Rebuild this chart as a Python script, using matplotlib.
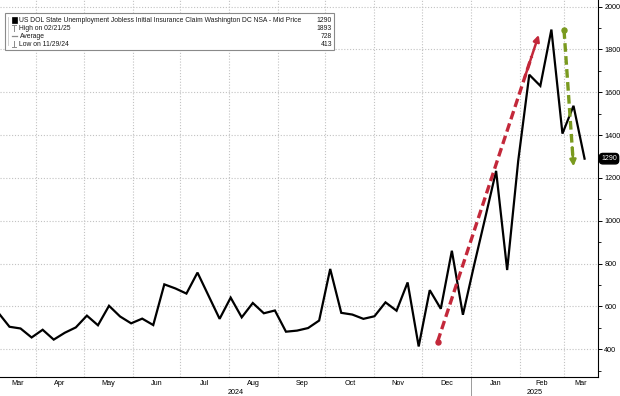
#!/usr/bin/env python3
"""Washington DC initial jobless claims, Bloomberg-style weekly line chart."""

import matplotlib

matplotlib.use("Agg")
import matplotlib.dates as mdates
import matplotlib.pyplot as plt
import pandas as pd
from matplotlib.lines import Line2D
from matplotlib.patches import Rectangle
from matplotlib.transforms import blended_transform_factory

FIRST_WEEK = "2024-03-08"
CLAIMS = [
    570, 505, 497, 455, 491, 445, 477, 502, 557, 512,
    603, 553, 521, 543, 513, 703, 684, 660, 758, 650,
    542, 641, 549, 616, 568, 581, 482, 487, 499, 534,
    775, 570, 562, 542, 554, 619, 580, 712, 413, 676,
    589, 860, 561, 790, 1010, 1233, 770, 1280, 1682, 1630,
    1893, 1407, 1537, 1290,
]
LAST_VALUE = "1290"

SERIES_NAME = "US DOL State Unemployment Jobless Initial Insurance Claim Washington DC NSA - Mid Price"
LEGEND_LABELS = [SERIES_NAME, "High on 02/21/25", "Average", "Low on 11/29/24"]
LEGEND_VALUES = ["1290", "1893", "728", "413"]

Y_TICKS = [400, 600, 800, 1000, 1200, 1400, 1600, 1800, 2000]
Y_MINOR = [300, 500, 700, 900, 1100, 1300, 1500, 1700, 1900]
YEARS = ["2024", "2025"]

X_START = "2024-03-09"
X_END = "2025-03-22 12:00"

RED = "#c3283a"
GREEN = "#7a9a1f"
GRID = "#c2c2c2"


def _num(d):
    return mdates.date2num(pd.Timestamp(d))


def _dashed_arrow(ax, start, end, color):
    x0, y0 = _num(start[0]), start[1]
    x1, y1 = _num(end[0]), end[1]
    ax.plot([x0, x0 + 0.93 * (x1 - x0)], [y0, y0 + 0.93 * (y1 - y0)],
            color=color, lw=2.4, ls=(0, (2.6, 1.3)), zorder=4)
    ax.plot([x0], [y0], "o", ms=3.6, color=color, zorder=4)
    ax.annotate("", xy=(x1, y1), xytext=(x0 + 0.86 * (x1 - x0), y0 + 0.86 * (y1 - y0)),
                arrowprops=dict(arrowstyle="-|>", color=color, lw=1.8,
                                mutation_scale=9, shrinkA=0, shrinkB=0),
                zorder=5)


def _legend(fig):
    W, H = 620.0, 396.0

    def fx(px):
        return px / W

    def fy(py):
        return 1.0 - py / H

    fig.add_artist(Rectangle((fx(5), fy(49.5)), fx(329), 36.8 / H, transform=fig.transFigure,
                             facecolor="white", edgecolor="#8a8a8a", lw=0.8, zorder=10))
    rows = [20.0, 28.4, 36.2, 44.0]
    # tree line on the left
    fig.add_artist(Line2D([fx(8), fx(8)], [fy(17), fy(45)], transform=fig.transFigure,
                          color="#c8c8c8", lw=0.6, zorder=11))
    # series swatch
    fig.add_artist(Rectangle((fx(11.5), fy(rows[0] + 2.8)), fx(5.5), 5.6 / H,
                             transform=fig.transFigure, facecolor="black", edgecolor="black",
                             lw=0.5, zorder=11))
    g = "#8c8c8c"
    # high icon
    fig.add_artist(Line2D([fx(12), fx(16)], [fy(rows[1] - 3), fy(rows[1] - 3)],
                          transform=fig.transFigure, color=g, lw=0.7, zorder=11))
    fig.add_artist(Line2D([fx(14), fx(14)], [fy(rows[1] - 3), fy(rows[1] + 2.5)],
                          transform=fig.transFigure, color=g, lw=0.7, zorder=11))
    # average icon
    fig.add_artist(Line2D([fx(11.5), fx(16.5)], [fy(rows[2]), fy(rows[2])],
                          transform=fig.transFigure, color=g, lw=0.9, zorder=11))
    # low icon
    fig.add_artist(Line2D([fx(12), fx(16)], [fy(rows[3] + 2.5), fy(rows[3] + 2.5)],
                          transform=fig.transFigure, color=g, lw=0.7, zorder=11))
    fig.add_artist(Line2D([fx(14), fx(14)], [fy(rows[3] - 3), fy(rows[3] + 2.5)],
                          transform=fig.transFigure, color=g, lw=0.7, zorder=11))

    for i, (label, value) in enumerate(zip(LEGEND_LABELS, LEGEND_VALUES)):
        fig.text(fx(19.5), fy(rows[i]), label, ha="left", va="center", fontsize=4.9,
                 color="#1a1a1a", zorder=12)
        fig.text(fx(332), fy(rows[i]), value, ha="right", va="center", fontsize=4.9,
                 color="#1a1a1a", zorder=12)


def main():
    plt.rcParams["font.family"] = ["Liberation Sans", "DejaVu Sans"]

    dates = pd.date_range(FIRST_WEEK, periods=len(CLAIMS), freq="7D")
    x_lo, x_hi = _num(X_START), _num(X_END)

    fig = plt.figure(figsize=(6.2, 3.96), dpi=100)
    ax = fig.add_axes([0.0, 1 - 377.3 / 396, 598 / 620, 377.3 / 396])

    ax.plot(mdates.date2num(dates), CLAIMS, color="black", lw=1.6, zorder=3,
            solid_joinstyle="miter")

    ax.set_xlim(x_lo, x_hi)
    ax.set_ylim(269, 2031)

    # month starts -> grid, month centres -> labels
    month_starts = pd.date_range("2024-04-01", "2025-03-01", freq="MS")
    bounds = [x_lo] + [_num(m) for m in month_starts] + [x_hi]
    centres = [(a + b) / 2 for a, b in zip(bounds[:-1], bounds[1:])]
    labels = ["Mar"] + [m.strftime("%b") for m in month_starts]
    ax.set_xticks(centres, labels)
    ax.set_xticks([_num(m) for m in month_starts], minor=True)
    ax.tick_params(axis="x", which="major", length=0, pad=2.2, labelsize=5.2)
    ax.tick_params(axis="x", which="minor", length=0)

    ax.yaxis.tick_right()
    ax.set_yticks(Y_TICKS, [str(v) for v in Y_TICKS])
    ax.set_yticks(Y_MINOR, minor=True)
    ax.tick_params(axis="y", which="major", length=3, width=0.7, pad=1.5, labelsize=5.2)
    ax.tick_params(axis="y", which="minor", length=1.8, width=0.6)

    ax.grid(axis="y", which="major", color=GRID, ls=(0, (1, 1.6)), lw=0.8)
    ax.grid(axis="x", which="minor", color=GRID, ls=(0, (1, 1.6)), lw=0.8)
    for side in ("left", "top"):
        ax.spines[side].set_visible(False)
    for side in ("right", "bottom"):
        ax.spines[side].set_linewidth(0.8)

    # year row with separator
    tr = blended_transform_factory(ax.transData, ax.transAxes)
    jan = _num("2025-01-01")
    ax.plot([jan, jan], [0, -0.05], transform=tr, color="#9a9a9a", lw=0.7, clip_on=False)
    ax.text((x_lo + jan) / 2, -0.04, YEARS[0], transform=tr, ha="center", va="center", fontsize=5.2)
    ax.text((jan + x_hi) / 2, -0.04, YEARS[1], transform=tr, ha="center", va="center", fontsize=5.2)

    # trend arrows
    _dashed_arrow(ax, ("2024-12-11", 436), ("2025-02-13", 1868), RED)
    _dashed_arrow(ax, ("2025-03-01", 1890), ("2025-03-07", 1254), GREEN)

    # last value tag
    tr_y = blended_transform_factory(ax.transAxes, ax.transData)
    ax.text(1.0185, CLAIMS[-1], LAST_VALUE, transform=tr_y, ha="center", va="center",
            fontsize=5.0, color="white", clip_on=False,
            bbox=dict(boxstyle="round,pad=0.25,rounding_size=0.5", fc="black", ec="black"))

    _legend(fig)

    fig.savefig("out.png", dpi=100)
    plt.close(fig)


if __name__ == "__main__":
    main()
